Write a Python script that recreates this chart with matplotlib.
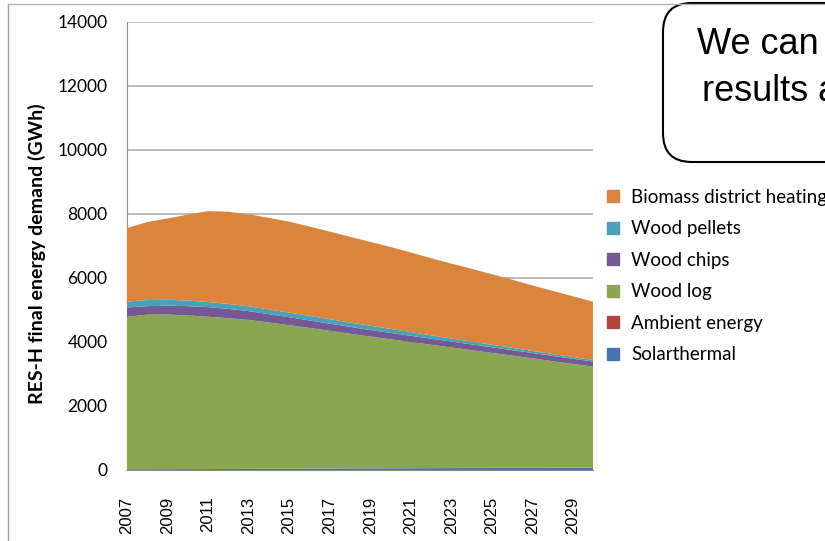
import matplotlib
matplotlib.use("Agg")
import matplotlib.pyplot as plt
from matplotlib.patches import FancyBboxPatch
from matplotlib.lines import Line2D

years = list(range(2007, 2031))
solarthermal = [15, 18, 20, 23, 26, 29, 32, 35, 38, 41, 44, 47, 50, 52, 54, 56, 58, 60, 62, 64, 66, 68, 69, 70]
ambient_energy = [5, 5, 5, 5, 5, 5, 5, 5, 5, 5, 5, 5, 5, 5, 5, 5, 5, 5, 5, 5, 5, 5, 5, 5]
wood_log = [4770, 4832, 4835, 4802, 4759, 4711, 4653, 4570, 4482, 4394, 4301, 4208,
            4115, 4028, 3941, 3854, 3767, 3680, 3593, 3506, 3419, 3327, 3241, 3155]
wood_chips = [290, 265, 275, 290, 300, 290, 275, 260, 250, 235, 225, 215,
              205, 200, 195, 190, 185, 180, 175, 172, 168, 165, 162, 160]
wood_pellets = [180, 190, 185, 175, 160, 155, 150, 147, 145, 142, 140, 137,
                135, 125, 115, 105, 95, 90, 80, 72, 65, 60, 55, 50]
district_heating = [2300, 2440, 2540, 2685, 2840, 2880, 2875, 2863, 2840, 2793, 2735, 2678,
                    2620, 2560, 2490, 2410, 2340, 2275, 2205, 2131, 2047, 1975, 1898, 1820]

series_names = ["Solarthermal", "Ambient energy", "Wood log", "Wood chips",
                "Wood pellets", "Biomass district heating"]
colors = ["#4674AE", "#B0443F", "#8BA650", "#745A92", "#4BA0B8", "#DB843D"]
x_tick_labels = [str(y) for y in range(2007, 2031, 2)]
y_ticks = [0, 2000, 4000, 6000, 8000, 10000, 12000, 14000]

W, H = 825, 541
fig = plt.figure(figsize=(W / 100, H / 100), dpi=100)

def fx(x):
    return x / W

def fy(y):
    return 1 - y / H

ax = fig.add_axes([fx(127), fy(470), (593 - 127) / W, (470 - 22) / H])
ax.stackplot(years, solarthermal, ambient_energy, wood_log, wood_chips, wood_pellets,
             district_heating, colors=colors, linewidth=0, zorder=3)
ax.set_xlim(2007, 2030)
ax.set_ylim(0, 14000)
ax.set_yticks(y_ticks)
ax.set_yticklabels([str(v) for v in y_ticks], fontfamily="Lato", fontsize=12.5)
ax.set_xticks(list(range(2007, 2031, 2)))
ax.set_xticklabels(x_tick_labels, rotation=90, fontfamily="Liberation Sans", fontsize=12)
ax.tick_params(axis="y", length=0, pad=14)
ax.tick_params(axis="x", length=0, pad=19)
ax.grid(axis="y", color="#B0B0B0", linewidth=1.2, zorder=1)
for s in ["top", "right"]:
    ax.spines[s].set_visible(False)
ax.spines["left"].set_color("#8C8C8C")
ax.spines["bottom"].set_color("#8C8C8C")
fig.text(fx(37), fy(254), "RES-H final energy demand (GWh)", rotation=90,
         fontfamily="Lato", fontweight="bold", fontsize=14, ha="center", va="center")

# slide frame lines
fig.add_artist(Line2D([fx(8), fx(8)], [fy(4), 0], color="#A0A0A0", linewidth=1))
fig.add_artist(Line2D([fx(8), 1], [fy(4), fy(4)], color="#B5B5B5", linewidth=1))

# callout box
box = FancyBboxPatch((fx(663), fy(162)), fx(900) - fx(663), fy(3) - fy(162),
                     boxstyle="round,pad=0,rounding_size=0.035",
                     transform=fig.transFigure, facecolor="white", edgecolor="black",
                     linewidth=1.5, mutation_aspect=W / H)
fig.add_artist(box)
fig.text(fx(697), fy(54), "We can", fontfamily="Liberation Sans", fontsize=26,
         ha="left", va="baseline")
fig.text(fx(702), fy(101), "results a", fontfamily="Liberation Sans", fontsize=26,
         ha="left", va="baseline")

# legend
handles = [Line2D([], [], marker="s", linestyle="none", markersize=8,
                  markerfacecolor=c, markeredgecolor=c) for c in colors]
leg = fig.legend(handles[::-1], series_names[::-1], loc="upper left",
                 bbox_to_anchor=(fx(604), fy(189)), frameon=False,
                 prop={"family": "Lato", "size": 13.5}, labelspacing=0.77,
                 handletextpad=0.45, handlelength=1.0, borderaxespad=0, borderpad=0)

fig.savefig("out.png", dpi=100)
